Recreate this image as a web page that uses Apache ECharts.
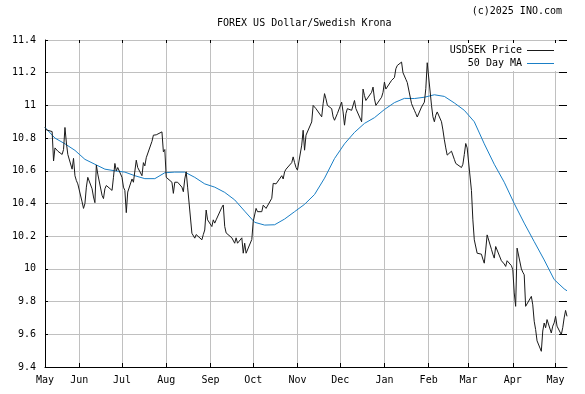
<!DOCTYPE html>
<html>
<head>
<meta charset="utf-8">
<script src="https://cdn.jsdelivr.net/npm/echarts@6/dist/echarts.min.js"></script>
<style>
  html, body { margin: 0; padding: 0; background: #fff; }
  #chart { width: 585px; height: 394px; }
</style>
</head>
<body>
<div id="chart"></div>
<script>
// one value per trading day (Mon-Fri), first day Wed 8 May 2024
const priceValues = [
  10.865, 10.85, 10.845,
  10.84, 10.66, 10.74, 10.73, 10.72,
  10.70, 10.73, 10.865, 10.77, 10.70,
  10.61, 10.676, 10.57, 10.54, 10.52,
  10.41, 10.37, 10.40, 10.50, 10.56,
  10.49, 10.44, 10.405, 10.635, 10.58,
  10.45, 10.43, 10.49, 10.51, 10.50,
  10.48, 10.56, 10.645, 10.60, 10.62,
  10.56, 10.50, 10.48, 10.344, 10.47,
  10.55, 10.53, 10.52, 10.665, 10.62,
  10.57, 10.65, 10.63, 10.68, 10.68,
  10.78, 10.818, 10.824, 10.82, 10.815,
  10.838, 10.716, 10.73, 10.56, 10.56,
  10.53, 10.462, 10.53, 10.52, 10.53,
  10.50, 10.472, 10.55, 10.594, 10.50,
  10.218, 10.21, 10.188, 10.21, 10.20,
  10.178, 10.21, 10.238, 10.36, 10.30,
  10.259, 10.30, 10.28, 10.30, 10.31,
  10.377, 10.391, 10.26, 10.22, 10.21,
  10.19, 10.18, 10.157, 10.19, 10.157,
  10.19, 10.096, 10.157, 10.096, 10.096,
  10.18, 10.29, 10.30, 10.37, 10.35,
  10.35, 10.39, 10.38, 10.37, 10.38,
  10.432, 10.523, 10.53, 10.52, 10.52,
  10.57, 10.55, 10.594, 10.61, 10.62,
  10.65, 10.685, 10.65, 10.62, 10.604,
  10.757, 10.848, 10.726, 10.818, 10.828,
  10.899, 11.0, 10.99, 10.98, 10.98,
  10.93, 11.01, 11.072, 11.04, 11.0,
  10.98, 10.93, 10.909, 10.90, 10.95,
  11.02, 10.96, 10.879, 10.95, 10.98,
  10.97, 10.96, 11.03, 10.98, 10.98,
  10.90, 11.10, 11.06, 11.03, 11.02,
  11.08, 11.112, 11.04, 11.00, 11.0,
  11.05, 11.08, 11.143, 11.10, 11.10,
  11.153, 11.16, 11.17, 11.224, 11.244,
  11.265, 11.20, 11.18, 11.16, 11.14,
  11.011, 10.99, 10.97, 10.95, 10.929,
  10.99, 10.99, 11.02, 11.102, 11.261,
  11.0, 10.93, 10.90, 10.94, 10.96,
  10.90, 10.85, 10.79, 10.74, 10.696,
  10.72, 10.71, 10.67, 10.645, 10.64,
  10.62, 10.64, 10.70, 10.767, 10.74,
  10.48, 10.30, 10.178, 10.17, 10.096,
  10.09, 10.06, 10.035, 10.116, 10.208,
  10.12, 10.09, 10.066, 10.137, 10.137,
  10.05, 10.04, 10.03, 10.015, 10.05,
  10.02, 9.995, 9.853, 9.771, 10.127,
  10.00, 9.98, 9.964, 9.771, 9.771,
  9.832, 9.78, 9.68, 9.629, 9.56,
  9.496, 9.62, 9.669, 9.64, 9.69,
  9.608, 9.65, 9.67, 9.71, 9.65,
  9.598, 9.64, 9.70, 9.746, 9.71
];

// 50 day MA read once a week (every Wednesday), plus the last day
const maValues = [
  10.865, 10.80, 10.765, 10.725, 10.67, 10.64, 10.61, 10.60, 10.592, 10.57,
  10.552, 10.552, 10.588, 10.592, 10.592, 10.56, 10.52, 10.50, 10.468, 10.422,
  10.353, 10.285, 10.268, 10.27, 10.305, 10.35, 10.395, 10.455, 10.555, 10.675,
  10.765, 10.835, 10.89, 10.925, 10.975, 11.017, 11.043, 11.042, 11.05, 11.065,
  11.055, 11.015, 10.97, 10.90, 10.765, 10.64, 10.53, 10.40, 10.28, 10.167,
  10.055, 9.935, 9.878, 9.866
];

const monthLabels = ['May', 'Jun', 'Jul', 'Aug', 'Sep', 'Oct', 'Nov', 'Dec', 'Jan', 'Feb', 'Mar', 'Apr', 'May'];
const yTicks = [9.4, 9.6, 9.8, 10, 10.2, 10.4, 10.6, 10.8, 11, 11.2, 11.4];

const startDay = new Date(2024, 4, 8).getTime();
const endDay = new Date(2025, 4, 9).getTime();

const priceDates = [];
for (let d = new Date(startDay); priceDates.length < priceValues.length; d.setDate(d.getDate() + 1)) {
  const wd = d.getDay();
  if (wd !== 0 && wd !== 6) priceDates.push(d.getTime());
}
const maDates = [];
for (let k = 0; k < maValues.length - 1; k++) {
  maDates.push(new Date(2024, 4, 8 + 7 * k).getTime());
}
maDates.push(endDay);

const monthStarts = [];
for (let m = 5; m <= 16; m++) monthStarts.push(new Date(2024, m, 1).getTime());
const labelValues = [startDay].concat(monthStarts);

function nearest(list, v) {
  let best = 0;
  for (let i = 1; i < list.length; i++) {
    if (Math.abs(list[i] - v) < Math.abs(list[best] - v)) best = i;
  }
  return best;
}

const font = 'DejaVu Sans Mono';
const chart = echarts.init(document.getElementById('chart'));
chart.setOption({
  backgroundColor: '#fff',
  animation: false,
  title: [{
    text: 'FOREX US Dollar/Swedish Krona',
    left: 217, top: 18, padding: 0,
    textStyle: { fontFamily: font, fontSize: 10, fontWeight: 'normal', color: '#000' }
  }, {
    text: '(c)2025 INO.com',
    right: 23, top: 6, padding: 0,
    textStyle: { fontFamily: font, fontSize: 10, fontWeight: 'normal', color: '#000' }
  }],
  legend: {
    orient: 'vertical',
    right: 28, top: 43,
    align: 'right',
    padding: [2, 3, 2, 3],
    backgroundColor: '#fff',
    icon: 'rect',
    itemWidth: 27, itemHeight: 1, itemGap: 2,
    textStyle: { fontFamily: font, fontSize: 10, color: '#000', lineHeight: 11 },
    data: ['USDSEK Price', '50 Day MA']
  },
  grid: { left: 45, right: 18, top: 40, bottom: 27 },
  xAxis: [{
    type: 'value',
    min: startDay, max: endDay,
    axisLine: { lineStyle: { color: '#000', width: 1 } },
    axisTick: { show: true, inside: true, length: 4, customValues: monthStarts, lineStyle: { color: '#000' } },
    axisLabel: {
      customValues: labelValues,
      margin: 8,
      fontFamily: font, fontSize: 10, color: '#000',
      formatter: function (v) { return monthLabels[nearest(labelValues, v)]; }
    },
    splitLine: { show: true, lineStyle: { color: '#c0c0c0', width: 1 } }
  }, {
    type: 'value',
    position: 'top',
    min: startDay, max: endDay,
    axisLine: { show: false },
    axisTick: { show: true, inside: true, length: 3, customValues: monthStarts, lineStyle: { color: '#000' } },
    axisLabel: { show: false },
    splitLine: { show: false }
  }],
  yAxis: [{
    type: 'value',
    min: 9.4, max: 11.4, interval: 0.2,
    axisLine: { show: true, lineStyle: { color: '#000', width: 1 } },
    axisTick: { show: true, inside: true, length: 3, lineStyle: { color: '#000' } },
    axisLabel: {
      margin: 9, fontFamily: font, fontSize: 10, color: '#000',
      formatter: function (v) { return String(yTicks[nearest(yTicks, v)]); }
    },
    splitLine: { show: true, lineStyle: { color: '#c0c0c0', width: 1 } }
  }, {
    type: 'value',
    position: 'right',
    min: 9.4, max: 11.4, interval: 0.2,
    axisLine: { show: false },
    axisTick: { show: true, inside: true, length: 8, lineStyle: { color: '#000' } },
    axisLabel: { show: false },
    splitLine: { show: false }
  }],
  series: [{
    name: 'USDSEK Price',
    type: 'line',
    xAxisIndex: 0, yAxisIndex: 0,
    symbol: 'none',
    lineStyle: { color: '#1a1a1a', width: 1 },
    itemStyle: { color: '#1a1a1a' },
    data: priceDates.map((d, i) => [d, priceValues[i]]),
    z: 3
  }, {
    name: '50 Day MA',
    type: 'line',
    xAxisIndex: 0, yAxisIndex: 0,
    symbol: 'none',
    lineStyle: { color: '#1a7fc6', width: 1 },
    itemStyle: { color: '#1a7fc6' },
    data: maDates.map((d, i) => [d, maValues[i]]),
    z: 2
  }]
});
</script>
</body>
</html>
